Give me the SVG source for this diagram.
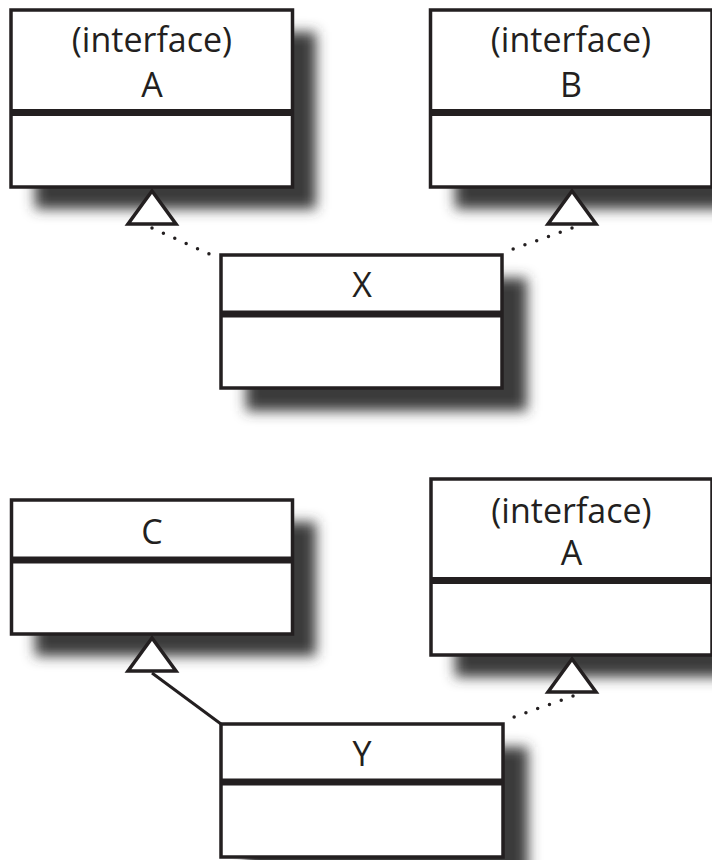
<svg xmlns="http://www.w3.org/2000/svg" width="712" height="860" viewBox="0 0 712 860">
  <defs>
    <filter id="blur" x="-20%" y="-25%" width="140%" height="150%">
      <feGaussianBlur stdDeviation="6.5"/>
    </filter>
  </defs>
  <style>
    .shadow { fill: #3a3a3a; filter: url(#blur); }
    .box { fill: #ffffff; stroke: #231f20; stroke-width: 3.5; }
    .divider { stroke: #231f20; stroke-width: 7; }
    .label { font-family: "Open Sans", "Liberation Sans", sans-serif; font-size: 34px; fill: #231f20; text-anchor: middle; }
    .tri { fill: #ffffff; stroke: #231f20; stroke-width: 3.5; stroke-linejoin: miter; }
    .dotted { fill: none; stroke: #231f20; stroke-width: 3.5; stroke-linecap: round; stroke-dasharray: 0 12.5; }
    .solid { fill: none; stroke: #231f20; stroke-width: 3; }
  </style>
  <rect width="712" height="860" fill="#ffffff"/>

  <g id="nodeA1">
    <rect class="shadow" x="35" y="32" width="281" height="177"/>
    <rect class="box" x="11" y="10" width="281.5" height="177"/>
    <line class="divider" x1="11" y1="112.5" x2="292.5" y2="112.5"/>
    <text class="label" x="152" y="52">(interface)</text>
    <text class="label" x="152" y="97">A</text>
  </g>

  <g id="nodeB">
    <rect class="shadow" x="455" y="32" width="281" height="177"/>
    <rect class="box" x="430.5" y="10" width="281.5" height="177"/>
    <line class="divider" x1="430.5" y1="112.5" x2="712" y2="112.5"/>
    <text class="label" x="571" y="52">(interface)</text>
    <text class="label" x="571" y="97">B</text>
  </g>

  <g id="nodeX">
    <rect class="shadow" x="246" y="278" width="281" height="133"/>
    <rect class="box" x="221" y="255" width="281" height="133"/>
    <line class="divider" x1="221" y1="314" x2="502" y2="314"/>
    <text class="label" x="362" y="297">X</text>
  </g>

  <g id="nodeC">
    <rect class="shadow" x="35" y="522" width="281" height="134"/>
    <rect class="box" x="11.5" y="500" width="281" height="134"/>
    <line class="divider" x1="11.5" y1="560" x2="292.5" y2="560"/>
    <text class="label" x="152" y="544">C</text>
  </g>

  <g id="nodeA2">
    <rect class="shadow" x="455" y="501" width="281" height="176"/>
    <rect class="box" x="431" y="479" width="281" height="176"/>
    <line class="divider" x1="431" y1="580.5" x2="712" y2="580.5"/>
    <text class="label" x="571.5" y="523">(interface)</text>
    <text class="label" x="571.5" y="565">A</text>
  </g>

  <g id="nodeY">
    <rect class="shadow" x="246" y="747" width="282" height="133"/>
    <rect class="box" x="221" y="724" width="282" height="133"/>
    <line class="divider" x1="221" y1="782" x2="503" y2="782"/>
    <text class="label" x="362" y="766">Y</text>
  </g>

  <g id="connectors">
    <line class="dotted" x1="152" y1="228" x2="216" y2="257"/>
    <line class="dotted" x1="572" y1="228" x2="505" y2="252"/>
    <line class="solid" x1="152" y1="673" x2="221" y2="724"/>
    <line class="dotted" x1="573" y1="696" x2="503" y2="721"/>
    <polygon class="tri" points="152,191 128,224 176,224"/>
    <polygon class="tri" points="572,191 548,224 596,224"/>
    <polygon class="tri" points="152,638 128,671 176,671"/>
    <polygon class="tri" points="572,659 548,692 596,692"/>
  </g>
</svg>
